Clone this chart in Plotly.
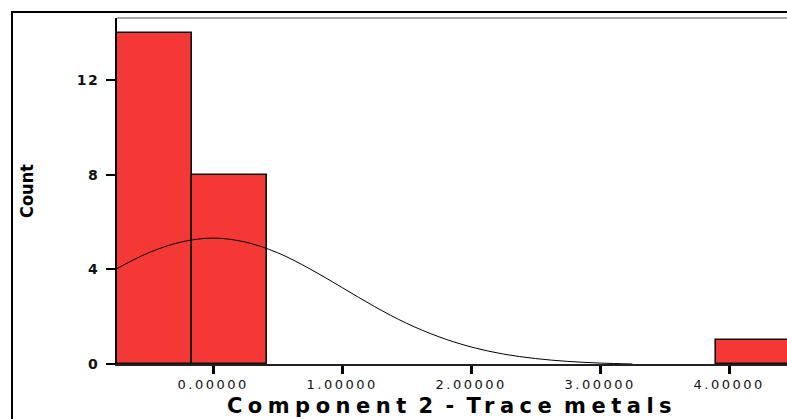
import plotly.graph_objects as go

# Histogram data (bin edges and counts)
bin_left = [-0.745, -0.165, 3.895]
bin_width = 0.58
counts = [14, 8, 1]

# Fitted normal curve
curve_x = [-0.745, -0.5, -0.25, 0.0, 0.25, 0.5, 0.75, 1.0, 1.25, 1.5, 1.75,
           2.0, 2.25, 2.5, 2.75, 3.0, 3.25]
curve_y = [4.03, 4.70, 5.15, 5.32, 5.15, 4.70, 4.02, 3.23, 2.43, 1.72, 1.15,
           0.72, 0.42, 0.23, 0.11, 0.04, 0.0]

x_ticks = [0, 1, 2, 3, 4]
x_tick_text = ["0.00000", "1.00000", "2.00000", "3.00000", "4.00000"]
y_ticks = [0, 4, 8, 12]

x_title = "Component 2 - Trace metals"
y_title = "Count"

W, H = 787, 419
L, R, T, B = 117, 0, 18, 55
pw, ph = W - L - R, H - T - B

fig = go.Figure()
fig.add_trace(go.Bar(
    x=[b + bin_width / 2 for b in bin_left],
    y=counts,
    width=[bin_width] * len(counts),
    marker=dict(color="#F43836", line=dict(color="#111111", width=1.6)),
    showlegend=False,
))
fig.add_trace(go.Scatter(
    x=curve_x, y=curve_y, mode="lines",
    line=dict(color="#000000", width=1, shape="spline"),
    showlegend=False,
))

def px_x(p):
    return (p - L) / pw

def px_y(p):
    return (H - B - p) / ph

shapes = [
    dict(type="line", xref="paper", yref="paper", x0=0, x1=1.01, y0=1, y1=1,
         line=dict(color="#8a8a8a", width=1.5)),
    dict(type="line", xref="paper", yref="paper", x0=px_x(11), x1=1.01,
         y0=px_y(12), y1=px_y(12), line=dict(color="#000000", width=2)),
    dict(type="line", xref="paper", yref="paper", x0=px_x(12), x1=px_x(12),
         y0=px_y(11), y1=px_y(425), line=dict(color="#000000", width=2)),
]

fig.update_layout(
    width=W, height=H,
    margin=dict(l=L, r=R, t=T, b=B),
    paper_bgcolor="white", plot_bgcolor="white",
    bargap=0,
    shapes=shapes,
    xaxis=dict(
        range=[-0.745, -0.745 + pw / 129.0],
        tickvals=x_ticks, ticktext=x_tick_text,
        ticks="outside", ticklen=8, tickwidth=3, tickcolor="#000000",
        showline=True, linecolor="#222222", linewidth=1.5,
        showgrid=False, zeroline=False,
        tickfont=dict(family="DejaVu Sans", size=13, color="#111111"),
        title=dict(text=x_title, standoff=7,
                   font=dict(family="DejaVu Sans", size=21, color="#000000", weight="bold")),
    ),
    yaxis=dict(
        range=[0, (H - B - T) / 23.67],
        tickvals=y_ticks,
        ticks="outside", ticklen=9, tickwidth=2, tickcolor="#000000",
        ticklabelstandoff=4,
        showline=True, linecolor="#000000", linewidth=2,
        showgrid=False, zeroline=False,
        tickfont=dict(family="DejaVu Sans", size=14, color="#111111", weight="bold"),
        title=dict(text=y_title, standoff=41,
                   font=dict(family="DejaVu Sans Condensed", size=18, color="#000000", weight="bold")),
    ),
)

post = """
var gd = document.getElementById('{plot_id}');
function spread(){
  gd.querySelectorAll('.g-xtitle text').forEach(function(t){t.style.letterSpacing='5.5px';t.style.wordSpacing='-6px';});
  gd.querySelectorAll('.xtick text').forEach(function(t){t.style.letterSpacing='2.5px';});
  gd.querySelectorAll('.ytick text').forEach(function(t){t.style.letterSpacing='1.5px';});
}
spread();
gd.on('plotly_afterplot', spread);
"""

fig.write_html("out.html", post_script=post)
